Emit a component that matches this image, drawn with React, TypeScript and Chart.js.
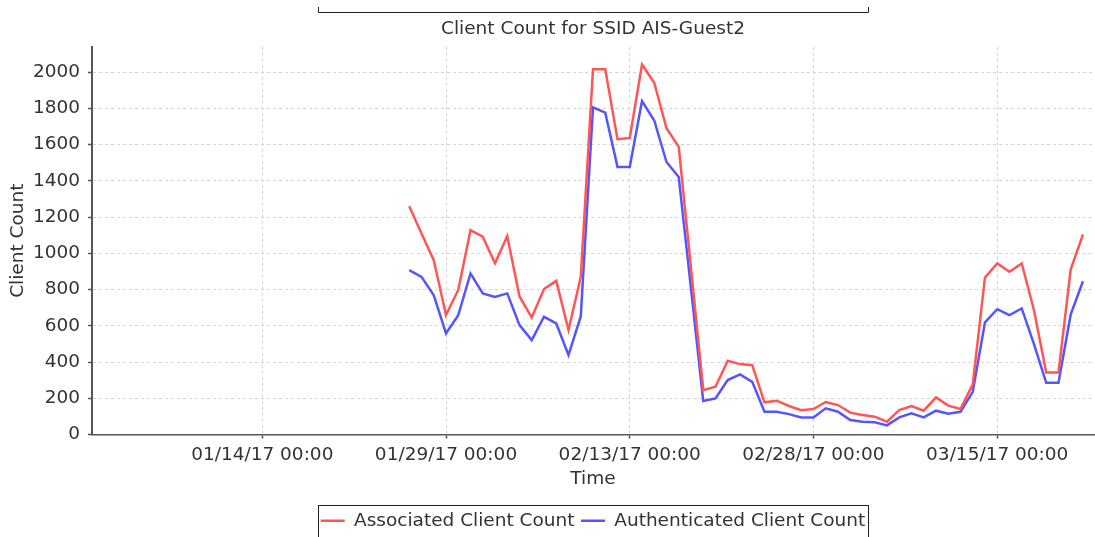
import React, { useEffect, useRef } from 'react';
import { Chart, registerables } from 'chart.js';

Chart.register(...registerables);

const chartTitle = 'Client Count for SSID AIS-Guest2';
const xTitle = 'Time';
const yTitle = 'Client Count';
const seriesNames = ['Associated Client Count', 'Authenticated Client Count'];

const dates = [
  '2017-01-26', '2017-01-27', '2017-01-28', '2017-01-29', '2017-01-30', '2017-01-31',
  '2017-02-01', '2017-02-02', '2017-02-03', '2017-02-04', '2017-02-05', '2017-02-06', '2017-02-07',
  '2017-02-08', '2017-02-09', '2017-02-10', '2017-02-11', '2017-02-12', '2017-02-13', '2017-02-14',
  '2017-02-15', '2017-02-16', '2017-02-17', '2017-02-18', '2017-02-19', '2017-02-20', '2017-02-21',
  '2017-02-22', '2017-02-23', '2017-02-24', '2017-02-25', '2017-02-26', '2017-02-27', '2017-02-28',
  '2017-03-01', '2017-03-02', '2017-03-03', '2017-03-04', '2017-03-05', '2017-03-06', '2017-03-07',
  '2017-03-08', '2017-03-09', '2017-03-10', '2017-03-11', '2017-03-12', '2017-03-13', '2017-03-14',
  '2017-03-15', '2017-03-16', '2017-03-17', '2017-03-18', '2017-03-19', '2017-03-20', '2017-03-21',
  '2017-03-22',
];

const associated = [
  1260, 1110, 962, 660, 798, 1128, 1092, 945, 1095, 762, 646, 803, 848, 577, 869,
  2015, 2015, 1630, 1637, 2042, 1941, 1690, 1587, 918,
  245, 264, 407, 389, 383, 178, 187, 158, 135, 141,
  180, 163, 121, 108, 99, 71, 135, 158, 132, 205,
  160, 141, 277, 867, 944, 898, 944, 686, 343, 343, 912, 1104,
];

const authenticated = [
  907, 870, 769, 558, 659, 889, 779, 760, 779, 604, 521, 650, 613, 439, 652,
  1805, 1776, 1477, 1477, 1840, 1733, 1504, 1421, 805,
  185, 200, 301, 332, 291, 126, 126, 113, 95, 95,
  145, 126, 80, 71, 68, 51, 95, 117, 95, 132,
  115, 126, 236, 619, 692, 659, 696, 499, 286, 286, 663, 846,
];

const referenceDate = '2017-01-14';
const tickDates = ['2017-01-14', '2017-01-29', '2017-02-13', '2017-02-28', '2017-03-15'];
const tickLabels = ['01/14/17 00:00', '01/29/17 00:00', '02/13/17 00:00', '02/28/17 00:00', '03/15/17 00:00'];
const xRangeDays = [-13.9, 67.9];
const yRange = [0, 2140];
const yStep = 200;

const DAY = 86400000;
const dayOffset = (d: string) => (Date.parse(d) - Date.parse(referenceDate)) / DAY;

const FONT = "'DejaVu Sans', 'Liberation Sans', sans-serif";
const FS = 18.5;
const TEXT = '#333333';

const frame = {
  id: 'legendFrame',
  afterDraw(chart: any) {
    const lg = chart.legend;
    if (!lg || !lg.legendHitBoxes || !lg.legendHitBoxes.length) return;
    const hb = lg.legendHitBoxes;
    let l = Infinity;
    let r = -Infinity;
    hb.forEach((h: any) => {
      l = Math.min(l, h.left);
      r = Math.max(r, h.left + h.width);
    });
    l = Math.round(l - 3) + 0.5;
    r = Math.round(r + 3) + 0.5;
    const ctx = chart.ctx;
    ctx.save();
    ctx.strokeStyle = '#222';
    ctx.lineWidth = 1;
    ctx.setLineDash([]);
    ctx.strokeRect(l, Math.round(lg.top) + 0.5, r - l, lg.height + 6);
    // partial frame visible at the top of the image
    ctx.beginPath();
    ctx.moveTo(l, 7);
    ctx.lineTo(l, 12.5);
    ctx.lineTo(r, 12.5);
    ctx.lineTo(r, 7);
    ctx.stroke();
    ctx.restore();
  },
};

export default function App() {
  const ref = useRef<HTMLCanvasElement | null>(null);

  useEffect(() => {
    if (!ref.current) return;
    const tickValues = tickDates.map(dayOffset);
    const xs = dates.map(dayOffset);
    const chart = new Chart(ref.current, {
      type: 'line',
      data: {
        datasets: [
          {
            label: seriesNames[0],
            data: xs.map((x, i) => ({ x, y: associated[i] })),
            borderColor: '#FF5555',
            backgroundColor: '#FF5555',
            borderWidth: 2.5,
            pointRadius: 0,
            tension: 0,
          },
          {
            label: seriesNames[1],
            data: xs.map((x, i) => ({ x, y: authenticated[i] })),
            borderColor: '#5555FF',
            backgroundColor: '#5555FF',
            borderWidth: 2.5,
            pointRadius: 0,
            tension: 0,
          },
        ],
      },
      options: {
        responsive: false,
        animation: false,
        devicePixelRatio: 1,
        layout: { padding: { left: 0, right: 1, top: 0, bottom: -3 } },
        plugins: {
          title: {
            display: true,
            fullSize: false,
            text: chartTitle,
            color: TEXT,
            font: { family: FONT, size: FS, weight: 'normal' },
            padding: { top: 18.5, bottom: 6 },
          },
          legend: {
            display: true,
            fullSize: false,
            position: 'bottom',
            labels: {
              usePointStyle: true,
              pointStyle: 'line',
              pointStyleWidth: 24,
              color: TEXT,
              padding: 6.5,
              font: { family: FONT, size: FS },
            },
          },
          tooltip: { enabled: false },
        },
        scales: {
          x: {
            type: 'linear',
            min: xRangeDays[0],
            max: xRangeDays[1],
            afterBuildTicks: (scale: any) => {
              scale.ticks = tickValues.map((v) => ({ value: v }));
            },
            afterFit: (scale: any) => {
              scale.height = 70.4;
            },
            ticks: {
              autoSkip: false,
              maxRotation: 0,
              color: TEXT,
              padding: 5,
              font: { family: FONT, size: FS },
              callback: (_v: any, i: number) => tickLabels[i],
            },
            grid: {
              color: '#d4d4d4',
              lineWidth: 1,
              tickLength: 4,
              tickColor: '#555',
              tickWidth: 1.5,
            },
            border: { display: true, color: '#555', width: 1.5, dash: [3, 3] },
            title: {
              display: true,
              text: xTitle,
              color: TEXT,
              font: { family: FONT, size: FS },
              padding: { top: 4, bottom: 14.9 },
            },
          },
          y: {
            type: 'linear',
            min: yRange[0],
            max: yRange[1],
            afterFit: (scale: any) => {
              scale.width = 92;
            },
            ticks: {
              stepSize: yStep,
              includeBounds: false,
              color: TEXT,
              padding: 8,
              font: { family: FONT, size: FS },
              callback: (v: any) => String(v),
            },
            grid: {
              color: '#d4d4d4',
              lineWidth: 1,
              tickLength: 4,
              tickColor: '#555',
              tickWidth: 1.5,
            },
            border: { display: true, color: '#555', width: 2, dash: [3, 3] },
            title: {
              display: true,
              text: yTitle,
              color: TEXT,
              font: { family: FONT, size: FS },
              padding: { top: 7, bottom: 0 },
            },
          },
        },
      },
      plugins: [frame],
    } as any);
    return () => chart.destroy();
  }, []);

  return (
    <div style={{ position: 'fixed', left: 0, top: 0, width: 1095, height: 537, background: '#fff' }}>
      <canvas ref={ref} width={1095} height={537} style={{ display: 'block' }} />
    </div>
  );
}
